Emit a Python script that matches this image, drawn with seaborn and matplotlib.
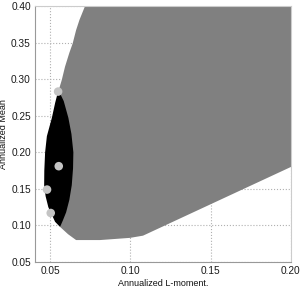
import numpy as np
import pandas as pd
import matplotlib
matplotlib.use("Agg")
import matplotlib.pyplot as plt
import seaborn as sns

# Gray feasible region boundary (L-moment, mean)
gray_x = [0.0718, 0.0683, 0.0662, 0.0641, 0.0620, 0.0593, 0.0573, 0.0558, 0.0550,
          0.0562, 0.0612, 0.0662, 0.0811, 0.0998, 0.1079, 0.2001, 0.2001]
gray_y = [0.400, 0.381, 0.367, 0.349, 0.336, 0.317, 0.299, 0.288, 0.281,
          0.098, 0.088, 0.080, 0.080, 0.083, 0.086, 0.180, 0.400]

# Black region boundary (lens)
black_x = [0.0552, 0.0585, 0.0614, 0.0633, 0.0645, 0.0643, 0.0635, 0.0620, 0.0600, 0.0580, 0.0562,
           0.0531, 0.0489, 0.0472, 0.0463, 0.0464, 0.0469, 0.0480, 0.0511, 0.0532]
black_y = [0.285, 0.270, 0.247, 0.225, 0.200, 0.178, 0.155, 0.135, 0.118, 0.107, 0.098,
           0.105, 0.125, 0.140, 0.155, 0.175, 0.200, 0.222, 0.247, 0.268]

# Points
pt_x = [0.0550, 0.0554, 0.0481, 0.0504]
pt_y = [0.283, 0.181, 0.149, 0.117]

x_ticks = [0.05, 0.10, 0.15, 0.20]
y_ticks = [0.05, 0.10, 0.15, 0.20, 0.25, 0.30, 0.35, 0.40]

sns.set_style("white")
plt.rcParams['font.family'] = ['Liberation Sans', 'DejaVu Sans']

fig = plt.figure(figsize=(3.04, 2.87), dpi=100)
ax = fig.add_axes([35/304, 1-262/287, (291-35)/304, (262-6)/287])

ax.fill(gray_x, gray_y, color='#808080', lw=0, zorder=2)
ax.fill(black_x, black_y, color='#000000', lw=0, zorder=3)

df = pd.DataFrame({'x': pt_x, 'y': pt_y})
sns.scatterplot(data=df, x='x', y='y', ax=ax, color='#c4c4c4', s=38,
                edgecolor='none', zorder=4, legend=False)

ax.set_xlim(0.0406, 0.2001)
ax.set_ylim(0.05, 0.40)
ax.set_xticks(x_ticks)
ax.set_yticks(y_ticks)
ax.set_xticklabels([f"{v:.2f}" for v in x_ticks])
ax.set_yticklabels([f"{v:.2f}" for v in y_ticks])
ax.grid(True, linestyle=':', color='#b0b0b0', linewidth=0.8, zorder=1)
ax.set_axisbelow(True)
ax.tick_params(axis='both', labelsize=7.3, colors='#1a1a1a', length=2, direction='in', pad=3)
ax.tick_params(axis='both', color='#888888')
for s in ax.spines.values():
    s.set_color('#999999')
    s.set_linewidth(0.8)
ax.spines['top'].set_color('#cccccc')
ax.spines['right'].set_color('#cccccc')

ax.set_xlabel("Annualized L-moment.", fontsize=6.5, color='#111111', labelpad=2)
ax.set_ylabel("Annualized Mean", fontsize=6.5, color='#111111', labelpad=2)

fig.savefig("out.png", dpi=100)
